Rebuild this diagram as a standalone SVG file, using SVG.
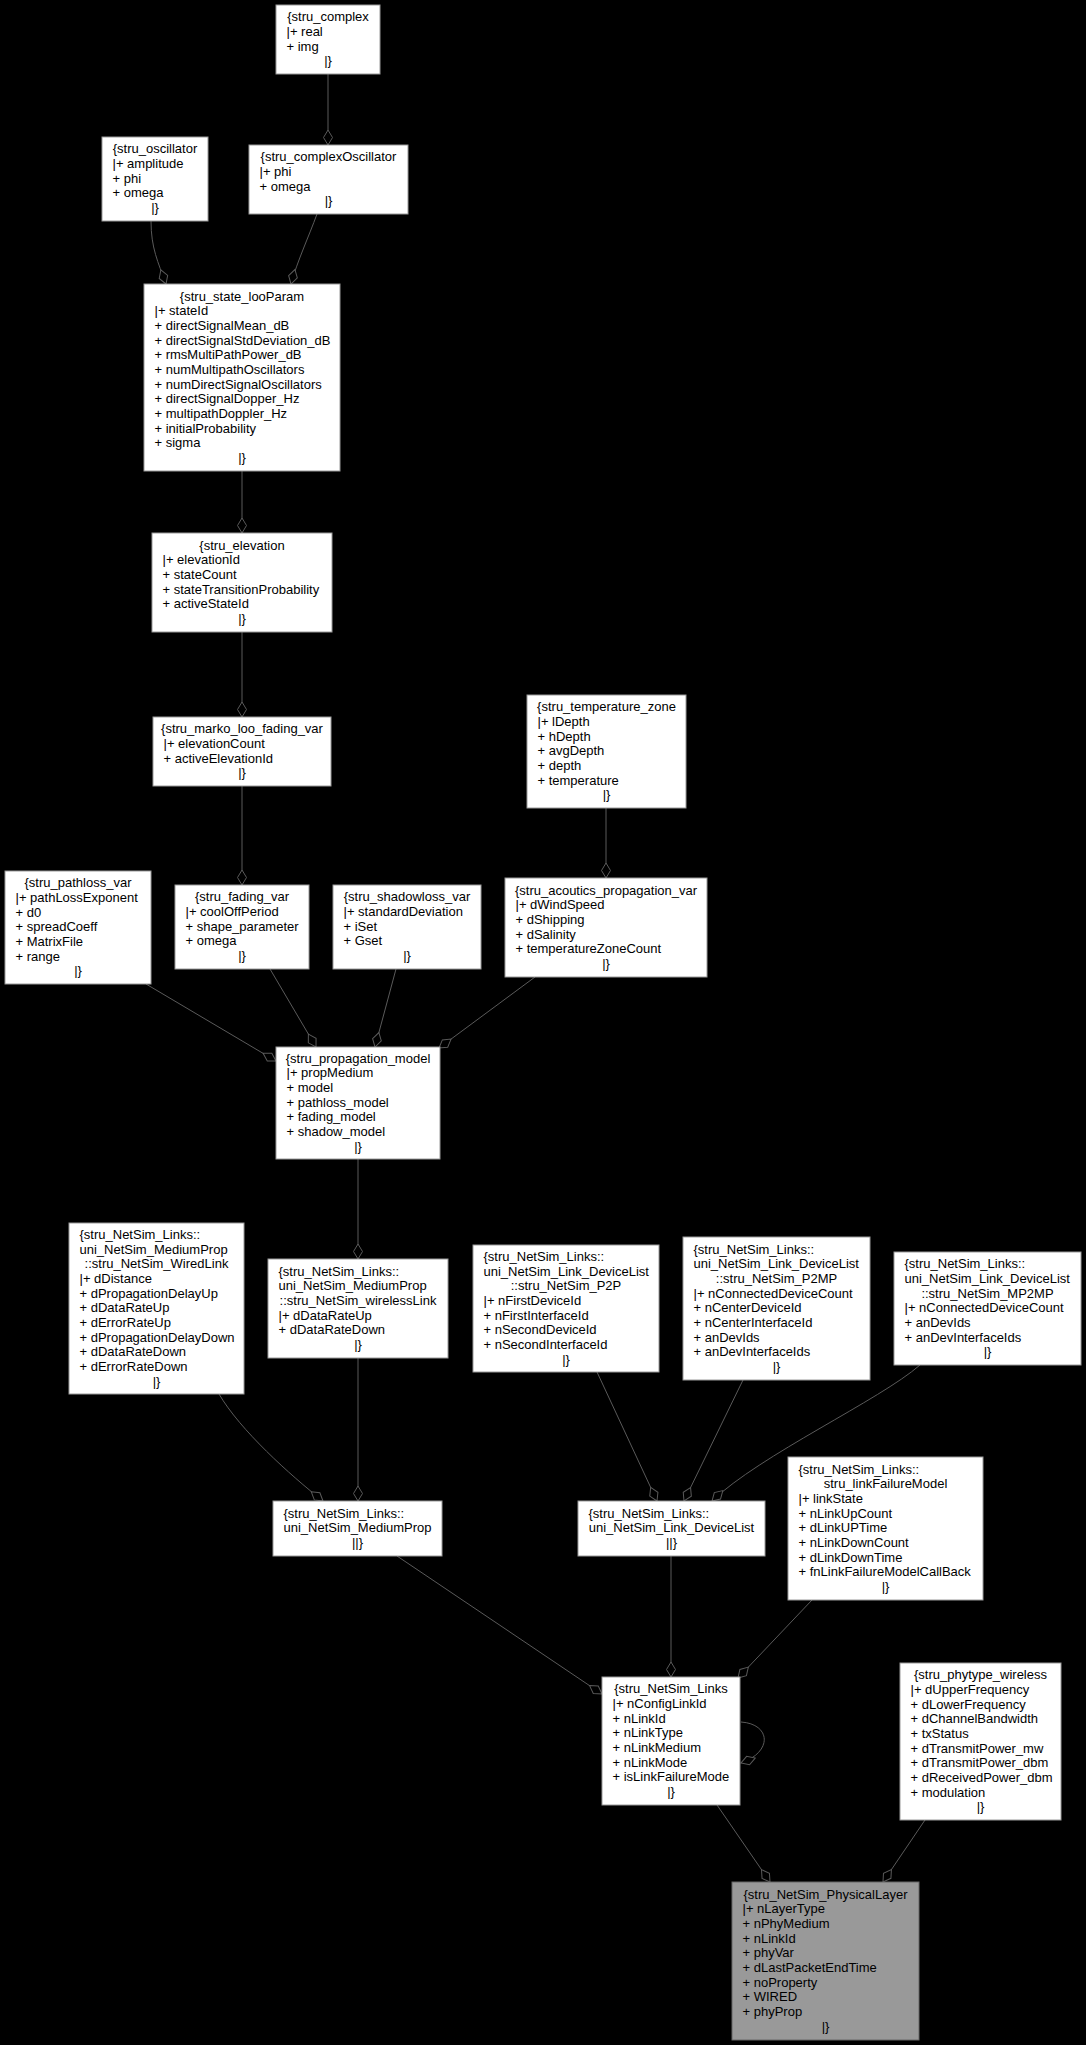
<svg xmlns="http://www.w3.org/2000/svg" width="1086" height="2045" viewBox="0 0 1086 2045">
<defs>
<style>
.n rect{fill:#ffffff;stroke:#999999;stroke-width:1}
.n.sel rect{fill:#999999;stroke:#666666}
text{font-family:"Liberation Sans",Arial,Helvetica,sans-serif;font-size:13px;fill:#000000}
.c{text-anchor:middle}
.e path{fill:none;stroke:#5a5a5a;stroke-width:1;marker-end:url(#dia)}
</style>
<marker id="dia" viewBox="0 0 16 10" markerWidth="16" markerHeight="10" refX="15.5" refY="5" orient="auto" markerUnits="userSpaceOnUse" overflow="visible">
<path d="M0.5,5 L8,0.5 L15.5,5 L8,9.5 Z" fill="#000000" stroke="#5a5a5a" stroke-width="1"/>
</marker>
</defs>
<rect x="0" y="0" width="1086" height="2045" fill="#000000"/>

<g id="connectors" class="e">
<path d="M328,74 L328,145"/>
<path d="M151,221 C151,248 158,262 166,284"/>
<path d="M317,214 C309,236 297,262 291,284"/>
<path d="M242,471 L242,533"/>
<path d="M242,632 L242,717"/>
<path d="M242,786 L242,885"/>
<path d="M606,808 L606,878"/>
<path d="M146,984 L276,1061"/>
<path d="M270,969 L316,1047"/>
<path d="M396,969 L375,1047"/>
<path d="M535,977 L439,1048"/>
<path d="M358,1159 L358,1259"/>
<path d="M219,1394 C240,1430 290,1475 323,1501"/>
<path d="M358,1358 L358,1501"/>
<path d="M597,1372 L657,1501"/>
<path d="M743,1380 L684,1501"/>
<path d="M920,1365 C880,1400 760,1455 712,1501"/>
<path d="M397,1556 L602,1694"/>
<path d="M671,1556 L671,1677"/>
<path d="M812,1600 L738,1678"/>
<path d="M741,1722 C771,1724 773,1752 741,1763"/>
<path d="M717,1805 L770,1882"/>
<path d="M925,1820 L883,1882"/>
</g>

<g id="stru_complex" class="n">
<rect x="276" y="5" width="104" height="69"/>
<text class="c" x="328" y="21.2">{stru_complex</text>
<text x="286.5" y="35.8">|+ real</text>
<text x="286.5" y="50.5">+ img</text>
<text class="c" x="328" y="65.2">|}</text>
</g>

<g id="stru_oscillator" class="n">
<rect x="102" y="137" width="106" height="84"/>
<text class="c" x="155" y="153.3">{stru_oscillator</text>
<text x="112.5" y="168">|+ amplitude</text>
<text x="112.5" y="182.7">+ phi</text>
<text x="112.5" y="197.3">+ omega</text>
<text class="c" x="155" y="212">|}</text>
</g>

<g id="stru_complexOscillator" class="n">
<rect x="249" y="145" width="159" height="69"/>
<text class="c" x="328.5" y="161.2">{stru_complexOscillator</text>
<text x="259.5" y="175.8">|+ phi</text>
<text x="259.5" y="190.5">+ omega</text>
<text class="c" x="328.5" y="205.2">|}</text>
</g>

<g id="stru_state_looParam" class="n">
<rect x="144" y="284" width="196" height="187"/>
<text class="c" x="242" y="300.5">{stru_state_looParam</text>
<text x="154.5" y="315.2">|+ stateId</text>
<text x="154.5" y="329.8">+ directSignalMean_dB</text>
<text x="154.5" y="344.5">+ directSignalStdDeviation_dB</text>
<text x="154.5" y="359.2">+ rmsMultiPathPower_dB</text>
<text x="154.5" y="373.8">+ numMultipathOscillators</text>
<text x="154.5" y="388.5">+ numDirectSignalOscillators</text>
<text x="154.5" y="403.2">+ directSignalDopper_Hz</text>
<text x="154.5" y="417.8">+ multipathDoppler_Hz</text>
<text x="154.5" y="432.5">+ initialProbability</text>
<text x="154.5" y="447.2">+ sigma</text>
<text class="c" x="242" y="461.8">|}</text>
</g>

<g id="stru_elevation" class="n">
<rect x="152" y="533" width="180" height="99"/>
<text class="c" x="242" y="549.5">{stru_elevation</text>
<text x="162.5" y="564.2">|+ elevationId</text>
<text x="162.5" y="578.8">+ stateCount</text>
<text x="162.5" y="593.5">+ stateTransitionProbability</text>
<text x="162.5" y="608.2">+ activeStateId</text>
<text class="c" x="242" y="622.8">|}</text>
</g>

<g id="stru_marko_loo_fading_var" class="n">
<rect x="153" y="717" width="178" height="69"/>
<text class="c" x="242" y="733.2">{stru_marko_loo_fading_var</text>
<text x="163.5" y="747.8">|+ elevationCount</text>
<text x="163.5" y="762.5">+ activeElevationId</text>
<text class="c" x="242" y="777.2">|}</text>
</g>

<g id="stru_temperature_zone" class="n">
<rect x="527" y="695" width="159" height="113"/>
<text class="c" x="606.5" y="711.2">{stru_temperature_zone</text>
<text x="537.5" y="725.8">|+ lDepth</text>
<text x="537.5" y="740.5">+ hDepth</text>
<text x="537.5" y="755.2">+ avgDepth</text>
<text x="537.5" y="769.8">+ depth</text>
<text x="537.5" y="784.5">+ temperature</text>
<text class="c" x="606.5" y="799.2">|}</text>
</g>

<g id="stru_pathloss_var" class="n">
<rect x="5" y="871" width="146" height="113"/>
<text class="c" x="78" y="887.2">{stru_pathloss_var</text>
<text x="15.5" y="901.8">|+ pathLossExponent</text>
<text x="15.5" y="916.5">+ d0</text>
<text x="15.5" y="931.2">+ spreadCoeff</text>
<text x="15.5" y="945.8">+ MatrixFile</text>
<text x="15.5" y="960.5">+ range</text>
<text class="c" x="78" y="975.2">|}</text>
</g>

<g id="stru_fading_var" class="n">
<rect x="175" y="885" width="134" height="84"/>
<text class="c" x="242" y="901.3">{stru_fading_var</text>
<text x="185.5" y="916">|+ coolOffPeriod</text>
<text x="185.5" y="930.7">+ shape_parameter</text>
<text x="185.5" y="945.3">+ omega</text>
<text class="c" x="242" y="960">|}</text>
</g>

<g id="stru_shadowloss_var" class="n">
<rect x="333" y="885" width="148" height="84"/>
<text class="c" x="407" y="901.3">{stru_shadowloss_var</text>
<text x="343.5" y="916">|+ standardDeviation</text>
<text x="343.5" y="930.7">+ iSet</text>
<text x="343.5" y="945.3">+ Gset</text>
<text class="c" x="407" y="960">|}</text>
</g>

<g id="stru_acoutics_propagation_var" class="n">
<rect x="505" y="878" width="202" height="99"/>
<text class="c" x="606" y="894.5">{stru_acoutics_propagation_var</text>
<text x="515.5" y="909.2">|+ dWindSpeed</text>
<text x="515.5" y="923.8">+ dShipping</text>
<text x="515.5" y="938.5">+ dSalinity</text>
<text x="515.5" y="953.2">+ temperatureZoneCount</text>
<text class="c" x="606" y="967.8">|}</text>
</g>

<g id="stru_propagation_model" class="n">
<rect x="276" y="1047" width="164" height="112"/>
<text class="c" x="358" y="1062.7">{stru_propagation_model</text>
<text x="286.5" y="1077.3">|+ propMedium</text>
<text x="286.5" y="1092">+ model</text>
<text x="286.5" y="1106.7">+ pathloss_model</text>
<text x="286.5" y="1121.3">+ fading_model</text>
<text x="286.5" y="1136">+ shadow_model</text>
<text class="c" x="358" y="1150.7">|}</text>
</g>

<g id="stru_NetSim_WiredLink" class="n">
<rect x="69" y="1223" width="175" height="171"/>
<text x="79.5" y="1238.8">{stru_NetSim_Links::</text>
<text x="79.5" y="1253.5">uni_NetSim_MediumProp</text>
<text class="c" x="156.5" y="1268.2">::stru_NetSim_WiredLink</text>
<text x="79.5" y="1282.8">|+ dDistance</text>
<text x="79.5" y="1297.5">+ dPropagationDelayUp</text>
<text x="79.5" y="1312.2">+ dDataRateUp</text>
<text x="79.5" y="1326.8">+ dErrorRateUp</text>
<text x="79.5" y="1341.5">+ dPropagationDelayDown</text>
<text x="79.5" y="1356.2">+ dDataRateDown</text>
<text x="79.5" y="1370.8">+ dErrorRateDown</text>
<text class="c" x="156.5" y="1385.5">|}</text>
</g>

<g id="stru_NetSim_wirelessLink" class="n">
<rect x="268" y="1259" width="180" height="99"/>
<text x="278.5" y="1275.5">{stru_NetSim_Links::</text>
<text x="278.5" y="1290.2">uni_NetSim_MediumProp</text>
<text class="c" x="358" y="1304.8">::stru_NetSim_wirelessLink</text>
<text x="278.5" y="1319.5">|+ dDataRateUp</text>
<text x="278.5" y="1334.2">+ dDataRateDown</text>
<text class="c" x="358" y="1348.8">|}</text>
</g>

<g id="stru_NetSim_P2P" class="n">
<rect x="473" y="1245" width="186" height="127"/>
<text x="483.5" y="1260.8">{stru_NetSim_Links::</text>
<text x="483.5" y="1275.5">uni_NetSim_Link_DeviceList</text>
<text class="c" x="566" y="1290.2">::stru_NetSim_P2P</text>
<text x="483.5" y="1304.8">|+ nFirstDeviceId</text>
<text x="483.5" y="1319.5">+ nFirstInterfaceId</text>
<text x="483.5" y="1334.2">+ nSecondDeviceId</text>
<text x="483.5" y="1348.8">+ nSecondInterfaceId</text>
<text class="c" x="566" y="1363.5">|}</text>
</g>

<g id="stru_NetSim_P2MP" class="n">
<rect x="683" y="1237" width="187" height="143"/>
<text x="693.5" y="1253.5">{stru_NetSim_Links::</text>
<text x="693.5" y="1268.2">uni_NetSim_Link_DeviceList</text>
<text class="c" x="776.5" y="1282.8">::stru_NetSim_P2MP</text>
<text x="693.5" y="1297.5">|+ nConnectedDeviceCount</text>
<text x="693.5" y="1312.2">+ nCenterDeviceId</text>
<text x="693.5" y="1326.8">+ nCenterInterfaceId</text>
<text x="693.5" y="1341.5">+ anDevIds</text>
<text x="693.5" y="1356.2">+ anDevInterfaceIds</text>
<text class="c" x="776.5" y="1370.8">|}</text>
</g>

<g id="stru_NetSim_MP2MP" class="n">
<rect x="894" y="1252" width="187" height="113"/>
<text x="904.5" y="1268.2">{stru_NetSim_Links::</text>
<text x="904.5" y="1282.8">uni_NetSim_Link_DeviceList</text>
<text class="c" x="987.5" y="1297.5">::stru_NetSim_MP2MP</text>
<text x="904.5" y="1312.2">|+ nConnectedDeviceCount</text>
<text x="904.5" y="1326.8">+ anDevIds</text>
<text x="904.5" y="1341.5">+ anDevInterfaceIds</text>
<text class="c" x="987.5" y="1356.2">|}</text>
</g>

<g id="uni_NetSim_MediumProp" class="n">
<rect x="273" y="1501" width="169" height="55"/>
<text x="283.5" y="1517.5">{stru_NetSim_Links::</text>
<text class="c" x="357.5" y="1532.2">uni_NetSim_MediumProp</text>
<text class="c" x="357.5" y="1546.8">||}</text>
</g>

<g id="uni_NetSim_Link_DeviceList" class="n">
<rect x="578" y="1501" width="187" height="55"/>
<text x="588.5" y="1517.5">{stru_NetSim_Links::</text>
<text class="c" x="671.5" y="1532.2">uni_NetSim_Link_DeviceList</text>
<text class="c" x="671.5" y="1546.8">||}</text>
</g>

<g id="stru_linkFailureModel" class="n">
<rect x="788" y="1457" width="195" height="143"/>
<text x="798.5" y="1473.5">{stru_NetSim_Links::</text>
<text class="c" x="885.5" y="1488.2">stru_linkFailureModel</text>
<text x="798.5" y="1502.8">|+ linkState</text>
<text x="798.5" y="1517.5">+ nLinkUpCount</text>
<text x="798.5" y="1532.2">+ dLinkUPTime</text>
<text x="798.5" y="1546.8">+ nLinkDownCount</text>
<text x="798.5" y="1561.5">+ dLinkDownTime</text>
<text x="798.5" y="1576.2">+ fnLinkFailureModelCallBack</text>
<text class="c" x="885.5" y="1590.8">|}</text>
</g>

<g id="stru_NetSim_Links" class="n">
<rect x="602" y="1677" width="138" height="128"/>
<text class="c" x="671" y="1693.3">{stru_NetSim_Links</text>
<text x="612.5" y="1708">|+ nConfigLinkId</text>
<text x="612.5" y="1722.7">+ nLinkId</text>
<text x="612.5" y="1737.3">+ nLinkType</text>
<text x="612.5" y="1752">+ nLinkMedium</text>
<text x="612.5" y="1766.7">+ nLinkMode</text>
<text x="612.5" y="1781.3">+ isLinkFailureMode</text>
<text class="c" x="671" y="1796">|}</text>
</g>

<g id="stru_phytype_wireless" class="n">
<rect x="900" y="1663" width="161" height="157"/>
<text class="c" x="980.5" y="1679.2">{stru_phytype_wireless</text>
<text x="910.5" y="1693.8">|+ dUpperFrequency</text>
<text x="910.5" y="1708.5">+ dLowerFrequency</text>
<text x="910.5" y="1723.2">+ dChannelBandwidth</text>
<text x="910.5" y="1737.8">+ txStatus</text>
<text x="910.5" y="1752.5">+ dTransmitPower_mw</text>
<text x="910.5" y="1767.2">+ dTransmitPower_dbm</text>
<text x="910.5" y="1781.8">+ dReceivedPower_dbm</text>
<text x="910.5" y="1796.5">+ modulation</text>
<text class="c" x="980.5" y="1811.2">|}</text>
</g>

<g id="stru_NetSim_PhysicalLayer" class="n sel">
<rect x="732" y="1882" width="187" height="158"/>
<text class="c" x="825.5" y="1898.7">{stru_NetSim_PhysicalLayer</text>
<text x="742.5" y="1913.3">|+ nLayerType</text>
<text x="742.5" y="1928">+ nPhyMedium</text>
<text x="742.5" y="1942.7">+ nLinkId</text>
<text x="742.5" y="1957.3">+ phyVar</text>
<text x="742.5" y="1972">+ dLastPacketEndTime</text>
<text x="742.5" y="1986.7">+ noProperty</text>
<text x="742.5" y="2001.3">+ WIRED</text>
<text x="742.5" y="2016">+ phyProp</text>
<text class="c" x="825.5" y="2030.7">|}</text>
</g>
</svg>
